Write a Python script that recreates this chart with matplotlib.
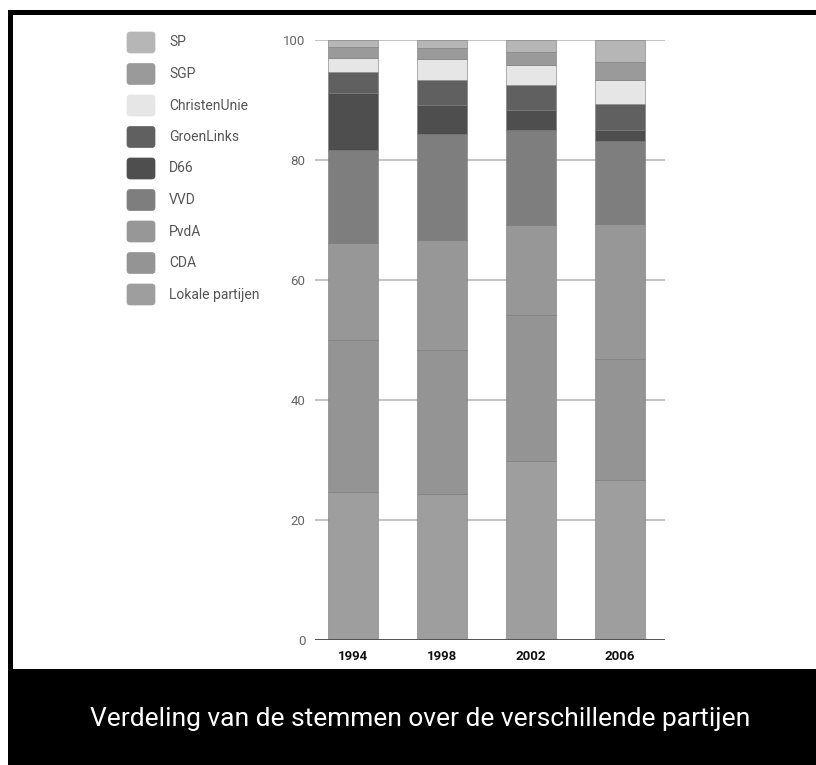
import matplotlib
matplotlib.use("Agg")
import matplotlib.pyplot as plt
from matplotlib.patches import Rectangle, FancyBboxPatch
import numpy as np

years = ["1994", "1998", "2002", "2006"]

# bottom to top
parties = ["Lokale partijen", "CDA", "PvdA", "VVD", "D66",
           "GroenLinks", "ChristenUnie", "SGP", "SP"]
lokale = [24.7, 24.3, 29.9, 26.6]
cda = [25.3, 24.0, 24.2, 20.3]
pvda = [16.1, 18.4, 15.1, 22.4]
vvd = [15.6, 17.7, 15.8, 13.9]
d66 = [9.4, 4.8, 3.3, 1.8]
groenlinks = [3.6, 4.1, 4.2, 4.3]
christenunie = [2.3, 3.5, 3.3, 4.0]
sgp = [1.9, 1.8, 2.25, 3.1]
sp = [1.1, 1.4, 1.95, 3.6]
series = [lokale, cda, pvda, vvd, d66, groenlinks, christenunie, sgp, sp]

colors = ["#9e9e9e", "#949494", "#979797", "#7e7e7e", "#4e4e4e",
          "#606060", "#e6e6e6", "#9a9a9a", "#b6b6b6"]

caption = "Verdeling van de stemmen over de verschillende partijen"

W, H = 816, 765
fig = plt.figure(figsize=(W / 100, H / 100), dpi=100)
fig.patch.set_facecolor("white")

font = ["Roboto", "DejaVu Sans"]


def px(x0, y0, w, h):
    # pixel box (top-left origin) -> figure fraction
    return (x0 / W, 1 - (y0 + h) / H, w / W, h / H)


ax = fig.add_axes(px(315, 40, 350, 600))
x = np.arange(len(years))
bottom = np.zeros(len(years))
for vals, col in zip(series, colors):
    ax.bar(x, vals, width=0.56, bottom=bottom, color=col,
           edgecolor="#777777", linewidth=0.4, zorder=3)
    bottom += np.array(vals)

ax.set_xlim(-0.427, 3.506)
ax.set_ylim(0, 100)
ax.set_yticks([0, 20, 40, 60, 80, 100])
ax.grid(axis="y", color="#b4b4b4", linewidth=1.1, zorder=0)
ax.axhline(0, color="#4a4a4a", linewidth=2, zorder=4)
for s in ax.spines.values():
    s.set_visible(False)
ax.tick_params(axis="y", length=0, pad=7, labelsize=9.5, labelcolor="#666666")
ax.tick_params(axis="x", length=0, pad=7, labelsize=9.5, labelcolor="#111111")
ax.set_xticks(x)
ax.set_xticklabels(years, fontweight="bold", family=font)
for lab in ax.get_yticklabels():
    lab.set_family(font)

# legend (top item = SP)
for i, (name, col) in enumerate(zip(parties[::-1], colors[::-1])):
    cy = 42.5 + i * 31.5
    box = FancyBboxPatch((127 / W, 1 - (cy + 10.5) / H), 28 / W, 21 / H,
                         boxstyle="round,pad=0,rounding_size=0.004",
                         transform=fig.transFigure, facecolor=col,
                         edgecolor=col, linewidth=0.5)
    fig.add_artist(box)
    fig.text(169 / W, 1 - cy / H, name, color="#555555", fontsize=10,
             family=font, va="center", ha="left")

# black frame and caption block
fig.add_artist(Rectangle(px(8, 10, 808, 5)[:2], 808 / W, 5 / H,
                         transform=fig.transFigure, color="black", lw=0))
fig.add_artist(Rectangle(px(8, 10, 5, 660)[:2], 5 / W, 660 / H,
                         transform=fig.transFigure, color="black", lw=0))
fig.add_artist(Rectangle(px(8, 669, 808, 96)[:2], 808 / W, 96 / H,
                         transform=fig.transFigure, color="black", lw=0))
fig.text(420 / W, 1 - 719 / H, caption, color="white", fontsize=19,
         family=font, ha="center", va="center")

fig.savefig("out.png", dpi=100)
